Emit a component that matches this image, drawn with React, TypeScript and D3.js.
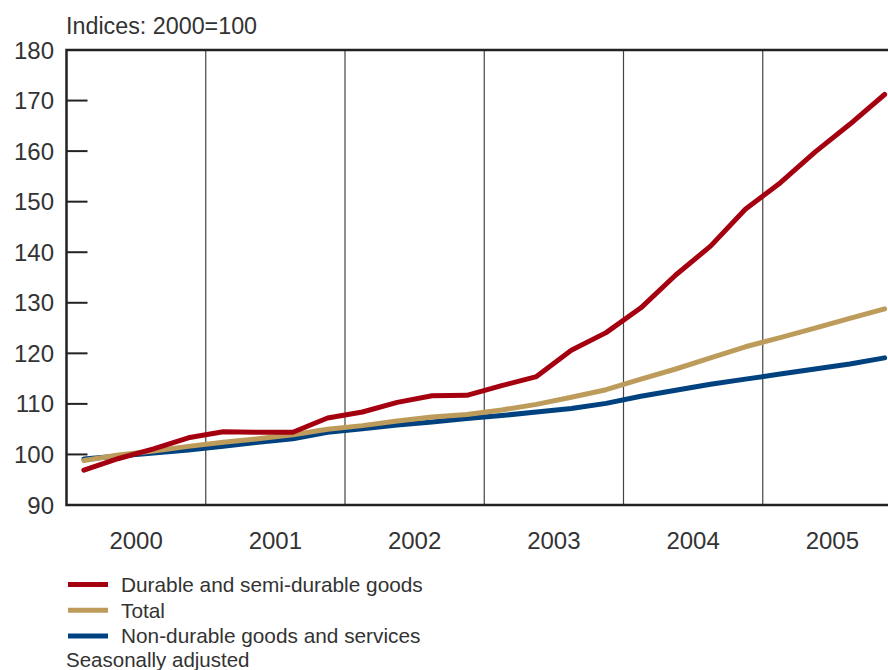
import React from "react";
import * as d3 from "d3";

const years = ["2000", "2001", "2002", "2003", "2004", "2005"];
const yTicks = [90, 100, 110, 120, 130, 140, 150, 160, 170, 180];

const durable = [96.9, 99.2, 101.1, 103.3, 104.5, 104.4, 104.4, 107.2, 108.4, 110.3, 111.6, 111.7,
  113.6, 115.4, 120.6, 124.1, 129.0, 135.5, 141.2, 148.5, 153.7, 159.8, 165.3, 171.2];
const total = [98.8, 99.9, 100.7, 101.6, 102.4, 103.1, 103.9, 105.0, 105.7, 106.6, 107.4, 107.9,
  108.8, 109.9, 111.3, 112.8, 114.9, 116.9, 119.1, 121.3, 123.1, 125.0, 126.9, 128.8];
const nonDurable = [99.1, 99.7, 100.3, 100.9, 101.6, 102.4, 103.1, 104.4, 105.1, 105.8, 106.4, 107.1,
  107.7, 108.4, 109.1, 110.1, 111.5, 112.7, 113.9, 114.9, 115.9, 116.9, 117.9, 119.1];

const seriesNames = ["Durable and semi-durable goods", "Total", "Non-durable goods and services"];
const colors = ["#a5000f", "#bd9c5b", "#00427f"];

export default function App() {
  const W = 888, H = 670;
  const left = 66.5, right = 902, top = 50, bottom = 505;
  const x = d3.scaleLinear().domain([0, 24]).range([left, right]);
  const y = d3.scaleLinear().domain([90, 180]).range([bottom, top]);
  const line = d3.line<number>().x((_, i) => x(i + 0.5)).y((d) => y(d));
  const font = "'Liberation Sans', Arial, sans-serif";
  const tc = "#333";
  const data = [durable, total, nonDurable];
  return (
    <svg width={W} height={H} style={{ position: "fixed", left: 0, top: 0 }} fontFamily={font}>
      <rect width={W} height={H} fill="#fff" />
      <text x={66} y={34} fontSize={23.3} fill={tc}>Indices: 2000=100</text>
      {yTicks.map((t) => (
        <g key={t}>
          <text x={54} y={y(t) + 8.5} fontSize={24} textAnchor="end" fill={tc}>{t}</text>
          {t > 90 && t < 180 && <line x1={left} x2={left + 21} y1={y(t)} y2={y(t)} stroke="#222" strokeWidth={2} />}
        </g>
      ))}
      {years.slice(1).map((yr, i) => (
        <line key={yr} x1={x((i + 1) * 4)} x2={x((i + 1) * 4)} y1={top} y2={bottom} stroke="#444" strokeWidth={1.2} />
      ))}
      {years.map((yr, i) => (
        <text key={yr} x={x(i * 4 + 2)} y={549} fontSize={24} textAnchor="middle" fill={tc}>{yr}</text>
      ))}
      {[2, 1, 0].map((k) => (
        <path key={k} d={line(data[k]) || ""} fill="none" stroke={colors[k]} strokeWidth={5} strokeLinecap="round" strokeLinejoin="round" />
      ))}
      <path d={`M${right},${top}H${left}V${bottom}H${right}`} fill="none" stroke="#222" strokeWidth={2.5} />
      {seriesNames.map((n, i) => (
        <g key={n}>
          <line x1={68} x2={108} y1={584.5 + i * 25.7} y2={584.5 + i * 25.7} stroke={colors[i]} strokeWidth={5} />
          <text x={121} y={592 + i * 25.5} fontSize={20.8} fill={tc}>{n}</text>
        </g>
      ))}
      <text x={66} y={667} fontSize={20.5} fill={tc}>Seasonally adjusted</text>
    </svg>
  );
}
